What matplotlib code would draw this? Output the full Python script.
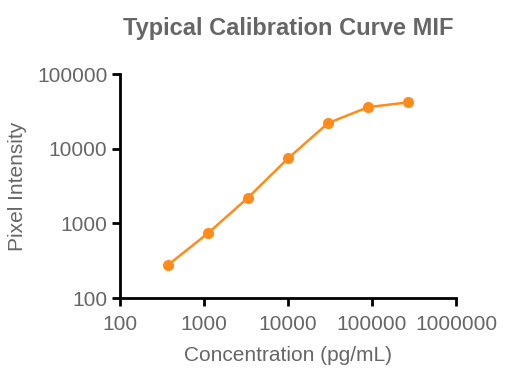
import matplotlib
matplotlib.use('Agg')
import matplotlib.pyplot as plt
import matplotlib.ticker as mticker

# calibration data (3-fold dilution series)
concentration = [370, 1111, 3333, 10000, 30000, 90000, 270000]
intensity = [275, 735, 2200, 7400, 22000, 36000, 41700]

x_ticks = [100, 1000, 10000, 100000, 1000000]
y_ticks = [100, 1000, 10000, 100000]

plt.rcParams['font.family'] = ['Liberation Sans', 'DejaVu Sans']
grey = '#666666'
orange = '#FF8C1A'

fig = plt.figure(figsize=(5.1, 3.82), dpi=100)
ax = fig.add_axes([120/510, 1 - 298/382, (456 - 120)/510, (298 - 74)/382])

ax.plot(concentration, intensity, color=orange, linewidth=1.8,
        marker='o', markersize=7, clip_on=False)

ax.set_xscale('log')
ax.set_yscale('log')
ax.set_xlim(100, 1000000)
ax.set_ylim(100, 100000)
ax.set_xticks(x_ticks)
ax.set_yticks(y_ticks)
ax.xaxis.set_minor_locator(mticker.NullLocator())
ax.yaxis.set_minor_locator(mticker.NullLocator())
ax.xaxis.set_major_formatter(mticker.FuncFormatter(lambda v, p: '%d' % v))
ax.yaxis.set_major_formatter(mticker.FuncFormatter(lambda v, p: '%d' % v))

for side in ['top', 'right']:
    ax.spines[side].set_visible(False)
for side in ['left', 'bottom']:
    ax.spines[side].set_linewidth(2)
    ax.spines[side].set_color('black')

ax.tick_params(axis='both', direction='out', length=6, width=2, color='black',
               labelsize=15, labelcolor=grey)
ax.tick_params(axis='x', pad=6)
ax.tick_params(axis='y', pad=3)

ax.set_xlabel('Concentration (pg/mL)', fontsize=15, color=grey, labelpad=9)
ax.set_ylabel('Pixel Intensity', fontsize=15, color=grey, labelpad=7)
fig.suptitle('Typical Calibration Curve MIF', fontsize=17, fontweight='bold',
             color=grey, x=288/510, y=1 - 28/382, va='center')

fig.savefig('out.png', dpi=100)
